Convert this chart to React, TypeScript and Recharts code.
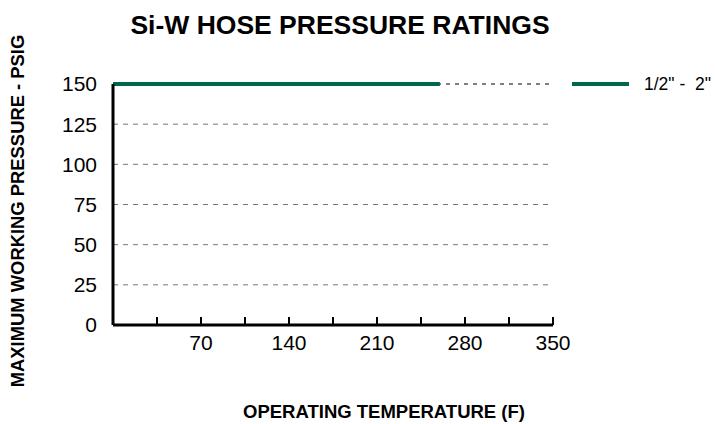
import React from "react";
import { LineChart, Line, XAxis, YAxis, CartesianGrid, ReferenceLine, Legend } from "recharts";

const temperatures = [0, 260];
const pressures = [150, 150];
const seriesName = '1/2" -\u00a0 2"';
const xTicks = [35, 70, 105, 140, 175, 210, 245, 280, 315, 350];
const yTicks = [0, 25, 50, 75, 100, 125, 150];
const labeledX = [70, 140, 210, 280, 350];

const data = temperatures.map((t, i) => ({ temp: t, psi: pressures[i] }));

const FONT = '"Liberation Sans", Arial, sans-serif';
const GREEN = "#00664f";

const XTick = (props: any) => {
  const { x, y, payload } = props;
  const v = payload.value;
  return (
    <g>
      <line x1={x} x2={x} y1={y} y2={y - 8} stroke="#000" strokeWidth={2} />
      {labeledX.includes(v) && (
        <text x={x} y={y + 25} textAnchor="middle" fontSize={21} fontFamily={FONT} fill="#000">
          {v}
        </text>
      )}
    </g>
  );
};

const LegendContent = () => (
  <svg width={148} height={22}>
    <line x1={7} x2={64} y1={10} y2={10} stroke={GREEN} strokeWidth={4} />
    <text x={79} y={16} fontSize={17.5} fontFamily={FONT} fill="#000">
      {seriesName}
    </text>
  </svg>
);

export default function App() {
  return (
    <div style={{ position: "absolute", left: 0, top: 0, width: 715, height: 424, background: "#fff", fontFamily: FONT }}>
      <div style={{ position: "absolute", left: 0, width: 680, top: 10, textAlign: "center", fontSize: 26.5, fontWeight: "bold", color: "#000" }}>
        Si-W HOSE PRESSURE RATINGS
      </div>
      <div
        style={{
          position: "absolute",
          left: 18,
          top: 211,
          transform: "translate(-50%, -50%) rotate(-90deg)",
          whiteSpace: "nowrap",
          fontSize: 18.4,
          fontWeight: "bold",
          color: "#000",
        }}
      >
        MAXIMUM WORKING PRESSURE - PSIG
      </div>
      <div style={{ position: "absolute", left: 384, top: 412, transform: "translate(-50%, -50%)", whiteSpace: "nowrap", fontSize: 18.5, fontWeight: "bold", color: "#000" }}>
        OPERATING TEMPERATURE (F)
      </div>
      <LineChart width={715} height={424} data={data} margin={{ top: 84, right: 12, bottom: 59, left: 53 }} style={{ position: "absolute", left: 0, top: 0 }}>
        <CartesianGrid vertical={false} horizontalValues={[25, 50, 75, 100, 125]} stroke="#777" strokeDasharray="5 5" />
        <ReferenceLine y={150} stroke="#000" strokeDasharray="4 5" strokeWidth={1} />
        <XAxis
          dataKey="temp"
          type="number"
          domain={[0, 350]}
          ticks={xTicks}
          interval={0}
          height={40}
          axisLine={{ stroke: "#000", strokeWidth: 3 }}
          tickLine={false}
          tickSize={0}
          tickMargin={0}
          tick={<XTick />}
        />
        <YAxis
          type="number"
          domain={[0, 150]}
          ticks={yTicks}
          interval={0}
          width={60}
          axisLine={{ stroke: "#000", strokeWidth: 3 }}
          tickLine={false}
          tickMargin={10}
          tick={{ fontSize: 21, fontFamily: FONT, fill: "#000" }}
        />
        <Legend layout="vertical" align="right" verticalAlign="top" content={<LegendContent />} wrapperStyle={{ position: "absolute", left: 565, top: 74, width: 150 }} />
        <Line dataKey="psi" name={seriesName} stroke={GREEN} strokeWidth={4} dot={false} isAnimationActive={false} />
      </LineChart>
    </div>
  );
}
